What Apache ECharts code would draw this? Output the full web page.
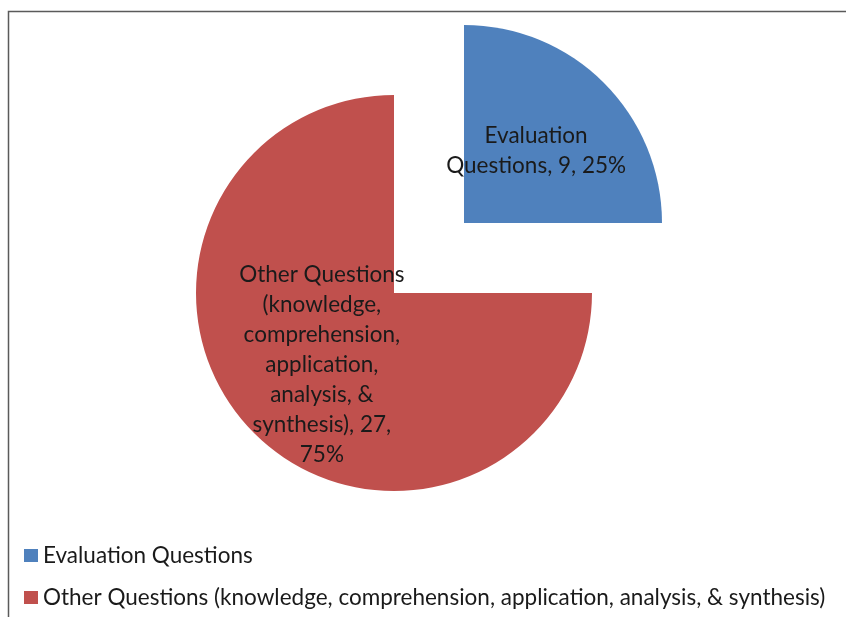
<!DOCTYPE html>
<html>
<head>
<meta charset="utf-8">
<title>Question types</title>
<script src="https://cdn.jsdelivr.net/npm/echarts@6/dist/echarts.min.js"></script>
<style>
  html, body { margin: 0; padding: 0; background: #fff; }
  #chart { width: 846px; height: 617px; }
</style>
</head>
<body>
<div id="chart"></div>
<script>
// slice names (legend) and values
const names = [
  'Evaluation Questions',
  'Other Questions (knowledge, comprehension, application, analysis, & synthesis)'
]
const values = [9, 27]
const colors = ['#4F81BD', '#C0504D']
// how the data labels wrap inside each slice
const wrappedNames = [
  'Evaluation\nQuestions',
  'Other Questions\n(knowledge,\ncomprehension,\napplication,\nanalysis, &\nsynthesis)'
]
const beforePercent = [' ', '\n']

const chart = echarts.init(document.getElementById('chart'))

const data = names.map((name, i) => ({
  name: name,
  value: values[i],
  selected: i === 0,
  itemStyle: { color: colors[i] }
}))

const option = {
  animation: false,
  graphic: [
    {
      type: 'rect',
      shape: { x: 8.5, y: 11.5, width: 900, height: 700 },
      style: { fill: 'none', stroke: '#5a5a5a', lineWidth: 1.5 },
      silent: true
    }
  ],
  legend: {
    orient: 'vertical',
    left: 24,
    top: 544,
    padding: 0,
    icon: 'rect',
    itemWidth: 14,
    itemHeight: 13,
    itemGap: 19,
    selectedMode: false,
    textStyle: {
      fontFamily: 'Lato',
      fontSize: 22.5,
      lineHeight: 20,
      color: '#1a1a1a'
    },
    data: names
  },
  series: [
    {
      type: 'pie',
      center: [394, 293],
      radius: 198,
      startAngle: 90,
      clockwise: true,
      selectedMode: 'single',
      selectedOffset: 99,
      avoidLabelOverlap: false,
      emphasis: { disabled: true },
      label: {
        show: true,
        position: 'inside',
        fontFamily: 'Lato',
        fontSize: 22.5,
        lineHeight: 30,
        color: '#1a1a1a',
        align: 'center',
        formatter: (p) => wrappedNames[p.dataIndex] + ', ' + p.value + ',' +
          beforePercent[p.dataIndex] + Math.round(p.percent) + '%'
      },
      labelLine: { show: false },
      data: data
    }
  ]
}
chart.setOption(option)
</script>
</body>
</html>
